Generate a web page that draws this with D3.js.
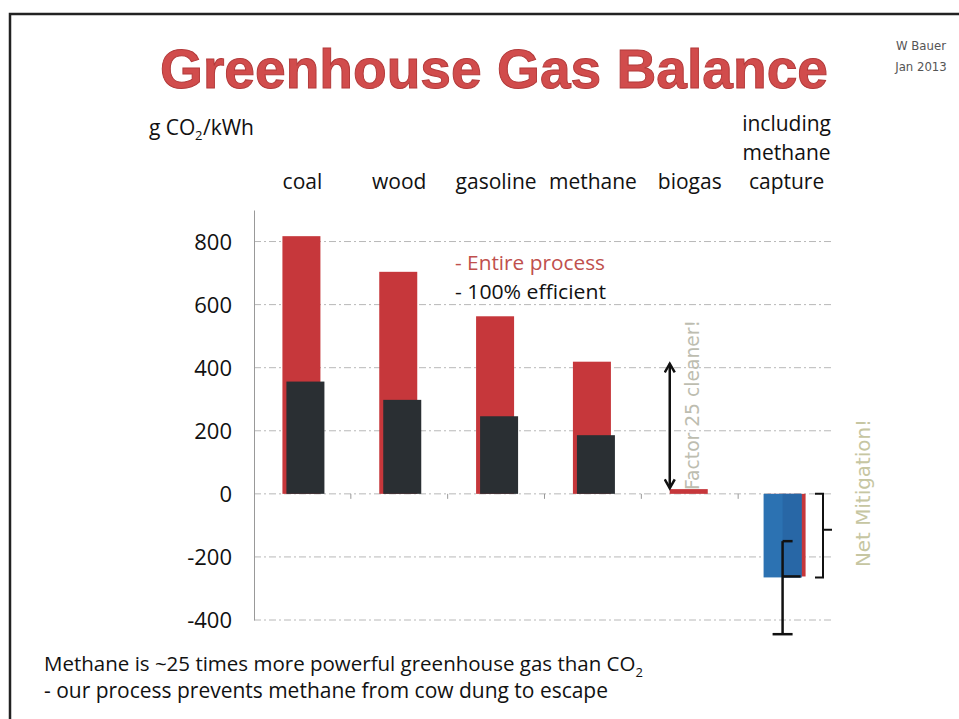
<!DOCTYPE html>
<html>
<head>
<meta charset="utf-8">
<script src="https://cdn.jsdelivr.net/npm/d3@7"></script>
<style>
  body { margin: 0; background: #fff; }
  svg { display: block; }
</style>
</head>
<body>
<div id="chart"></div>
<script>
// values (g CO2 / kWh)
const categories = ["coal", "wood", "gasoline", "methane", "biogas", "capture"];
const entireProcess = [817, 704, 563, 419, 15, -262];
const efficient = [356, 298, 246, 186, 0, -265];
const captureError = [-150, -445];   // whisker on the last bar
const yTicks = [-400, -200, 0, 200, 400, 600, 800];

const W = 959, H = 719;
const labelFont = "'Open Sans', 'Liberation Sans', sans-serif";

const svg = d3.select("#chart").append("svg")
  .attr("width", W).attr("height", H);

// slide frame
svg.append("path")
  .attr("d", "M10,719 L10,14 L959,14")
  .attr("fill", "none").attr("stroke", "#222").attr("stroke-width", 2.5);

// title
svg.append("text")
  .attr("x", 494).attr("y", 88)
  .attr("text-anchor", "middle")
  .attr("font-family", "'Liberation Sans', Arial, sans-serif")
  .attr("font-weight", "bold").attr("font-size", 56)
  .attr("textLength", 668).attr("lengthAdjust", "spacingAndGlyphs")
  .attr("fill", "#d14c4c").attr("stroke", "#b33a3a").attr("stroke-width", 1)
  .text("Greenhouse Gas Balance");

svg.append("text").attr("x", 921).attr("y", 50).attr("text-anchor", "middle")
  .attr("font-family", "'DejaVu Sans Condensed', 'DejaVu Sans', sans-serif")
  .attr("font-size", 13).attr("fill", "#555").text("W Bauer");
svg.append("text").attr("x", 921).attr("y", 71).attr("text-anchor", "middle")
  .attr("font-family", "'DejaVu Sans Condensed', 'DejaVu Sans', sans-serif")
  .attr("font-size", 13).attr("fill", "#555").text("Jan 2013");

// scales
const x = d3.scaleBand().domain(categories).range([254, 835]);
const y = d3.scaleLinear().domain([-400, 900]).range([620, 210]);
const cx = d => x(d) + x.bandwidth() / 2;

// grid lines
svg.append("g").selectAll("line")
  .data(yTicks)
  .join("line")
  .attr("x1", 254).attr("x2", 832)
  .attr("y1", d => y(d)).attr("y2", d => y(d))
  .attr("stroke", "#b8b8b8").attr("stroke-width", 1)
  .attr("stroke-dasharray", "7,3,2,3");

// y axis
const yAxis = svg.append("g")
  .attr("transform", "translate(254,0)")
  .call(d3.axisLeft(y).tickValues(yTicks).tickSize(0).tickPadding(22).tickFormat(d => String(d)));
yAxis.select(".domain").attr("stroke", "#999");
yAxis.selectAll("text")
  .attr("font-family", labelFont).attr("font-size", 22).attr("fill", "#111")
  .attr("dy", "0.36em");

// small ticks between categories on the zero line
svg.append("g").selectAll("line")
  .data(categories.slice(1))
  .join("line")
  .attr("x1", d => x(d)).attr("x2", d => x(d))
  .attr("y1", y(0)).attr("y2", y(0) + 5)
  .attr("stroke", "#999");

// category labels
svg.append("g").selectAll("text")
  .data(categories.slice(0, 5))
  .join("text")
  .attr("x", d => cx(d)).attr("y", 189)
  .attr("text-anchor", "middle")
  .attr("font-family", labelFont).attr("font-size", 21).attr("fill", "#111")
  .text(d => d);
["including", "methane", "capture"].forEach((t, i) => {
  svg.append("text")
    .attr("x", cx("capture")).attr("y", 131 + i * 29)
    .attr("text-anchor", "middle")
    .attr("font-family", labelFont).attr("font-size", 21).attr("fill", "#111")
    .text(t);
});

// unit label, subscript drawn as its own text
svg.append("text").attr("x", 149).attr("y", 135)
  .attr("font-family", labelFont).attr("font-size", 21).attr("fill", "#111")
  .text("g CO");
svg.append("text").attr("x", 195).attr("y", 140)
  .attr("font-family", labelFont).attr("font-size", 13).attr("fill", "#111")
  .text("2");
svg.append("text").attr("x", 203).attr("y", 135)
  .attr("font-family", labelFont).attr("font-size", 21).attr("fill", "#111")
  .text("/kWh");

// bars: entire process (red) behind, 100% efficient (dark) in front
const bw = 38;
svg.append("g").selectAll("rect")
  .data(categories)
  .join("rect")
  .attr("x", (d, i) => cx(d) - (i === 5 ? 19 : 20))
  .attr("width", bw)
  .attr("y", (d, i) => y(Math.max(0, entireProcess[i])))
  .attr("height", (d, i) => Math.max(1, Math.abs(y(entireProcess[i]) - y(0))))
  .attr("fill", "#c6373b");

svg.append("g").selectAll("rect")
  .data(categories)
  .join("rect")
  .attr("x", (d, i) => cx(d) - (i === 5 ? 23 : 16))
  .attr("width", bw)
  .attr("y", (d, i) => y(Math.max(0, efficient[i])))
  .attr("height", (d, i) => Math.abs(y(efficient[i]) - y(0)))
  .attr("fill", (d, i) => i === 5 ? "#2c72b2" : "#2a2f33");

// darker right half of capture bar
svg.append("rect")
  .attr("x", cx("capture") - 4).attr("width", 19)
  .attr("y", y(0)).attr("height", y(efficient[5]) - y(0))
  .attr("fill", "#2867a6");

// whisker on capture bar
const ex = cx("capture") - 4;
const eg = svg.append("g").attr("stroke", "#111").attr("stroke-width", 2.5).attr("fill", "none");
eg.append("line").attr("x1", ex).attr("x2", ex).attr("y1", y(captureError[0])).attr("y2", y(captureError[1]));
eg.append("line").attr("x1", ex).attr("x2", ex + 10).attr("y1", y(captureError[0])).attr("y2", y(captureError[0]));
eg.append("line").attr("x1", ex - 10).attr("x2", ex + 10).attr("y1", y(captureError[1])).attr("y2", y(captureError[1]));
eg.append("line").attr("x1", ex).attr("x2", ex + 18).attr("y1", y(efficient[5]) - 1).attr("y2", y(efficient[5]) - 1);

// bracket for net mitigation
const bx = 815;
svg.append("path")
  .attr("d", `M${bx},${y(0)} L${bx + 8},${y(0)} L${bx + 8},${y(efficient[5])} L${bx},${y(efficient[5])}
              M${bx + 8},${(y(0) + y(efficient[5])) / 2 - 6} L${bx + 17},${(y(0) + y(efficient[5])) / 2 - 6}`)
  .attr("fill", "none").attr("stroke", "#111").attr("stroke-width", 2);

// factor 25 arrow
svg.append("defs").append("marker")
  .attr("id", "ah").attr("viewBox", "0 0 10 10").attr("refX", 8).attr("refY", 5)
  .attr("markerWidth", 5).attr("markerHeight", 5).attr("orient", "auto-start-reverse")
  .append("path").attr("d", "M1,1 L8,5 L1,9").attr("fill", "none").attr("stroke", "#111").attr("stroke-width", 2);
svg.append("line")
  .attr("x1", cx("biogas") - 20).attr("x2", cx("biogas") - 20)
  .attr("y1", y(entireProcess[3]) + 2).attr("y2", y(entireProcess[4]) - 1)
  .attr("stroke", "#111").attr("stroke-width", 2.5)
  .attr("marker-start", "url(#ah)").attr("marker-end", "url(#ah)");

svg.append("text")
  .attr("transform", `translate(699,490) rotate(-90)`)
  .attr("font-family", "'DejaVu Sans', sans-serif").attr("font-size", 19)
  .attr("textLength", 170).attr("lengthAdjust", "spacingAndGlyphs")
  .attr("fill", "#bdbdb0").text("Factor 25 cleaner!");

svg.append("text")
  .attr("transform", `translate(870,567) rotate(-90)`)
  .attr("font-family", "'DejaVu Sans', sans-serif").attr("font-size", 20)
  .attr("textLength", 148).attr("lengthAdjust", "spacingAndGlyphs")
  .attr("fill", "#c6c6a2").text("Net Mitigation!");

// legend
svg.append("text").attr("x", 455).attr("y", 270)
  .attr("font-family", labelFont).attr("font-size", 20).attr("fill", "#c0504d")
  .attr("textLength", 150).attr("lengthAdjust", "spacingAndGlyphs")
  .text("- Entire process");
svg.append("text").attr("x", 455).attr("y", 299)
  .attr("font-family", labelFont).attr("font-size", 20).attr("fill", "#111")
  .attr("textLength", 151).attr("lengthAdjust", "spacingAndGlyphs")
  .text("- 100% efficient");

// footnote
const n1 = svg.append("text").attr("x", 44).attr("y", 671)
  .attr("font-family", labelFont).attr("font-size", 20.5).attr("fill", "#111");
n1.append("tspan").text("Methane is ~25 times more powerful greenhouse gas than CO");
n1.append("tspan").attr("font-size", 13).attr("dy", 6).text("2");
svg.append("text").attr("x", 44).attr("y", 698)
  .attr("font-family", labelFont).attr("font-size", 21).attr("fill", "#111")
  .attr("textLength", 564).attr("lengthAdjust", "spacingAndGlyphs")
  .text("- our process prevents methane from cow dung to escape");
</script>
</body>
</html>
